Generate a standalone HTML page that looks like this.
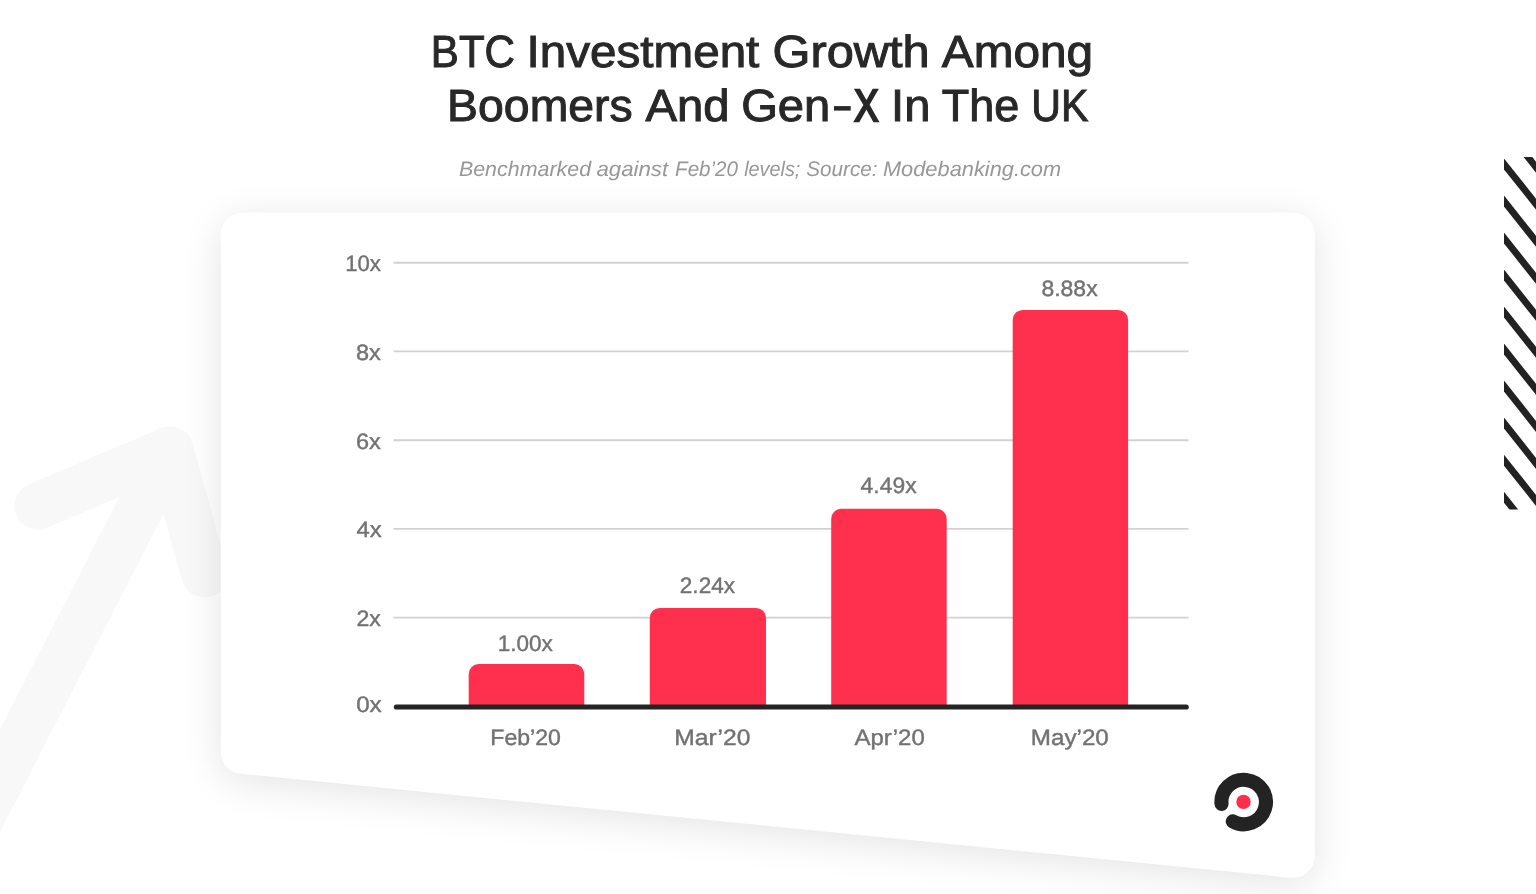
<!DOCTYPE html>
<html><head><meta charset="utf-8">
<style>
html,body{margin:0;padding:0;background:#fff;width:1536px;height:894px;overflow:hidden}
svg{display:block;will-change:transform}
text{font-family:"Liberation Sans",sans-serif;text-rendering:geometricPrecision}
</style></head><body>
<svg width="1536" height="894" viewBox="0 0 1536 894">
<defs>
<filter id="sh" x="-20%" y="-20%" width="140%" height="140%"><feGaussianBlur stdDeviation="20"/></filter>
<clipPath id="stc"><rect x="1504" y="157" width="40" height="352.5"/></clipPath>
</defs>
<rect width="1536" height="894" fill="#fff"/>
<g fill="none" stroke="#f8f8f8" stroke-width="47" stroke-linecap="round" stroke-linejoin="round">
<path d="M38 506 L170 450 L204.6 574"/>
<path d="M170 450 L-84 944"/>
</g>
<path d="M220.80 234.50 A22.00 22.00 0 0 1 242.80 212.50 L1293.00 212.50 A22.00 22.00 0 0 1 1315.00 234.50 L1315.00 855.82 A22.00 22.00 0 0 1 1290.83 877.71 L240.63 773.76 A22.00 22.00 0 0 1 220.80 751.87 Z" fill="#000" opacity="0.105" filter="url(#sh)" transform="translate(0,7)"/>
<path d="M220.80 234.50 A22.00 22.00 0 0 1 242.80 212.50 L1293.00 212.50 A22.00 22.00 0 0 1 1315.00 234.50 L1315.00 855.82 A22.00 22.00 0 0 1 1290.83 877.71 L240.63 773.76 A22.00 22.00 0 0 1 220.80 751.87 Z" fill="#fff"/>
<g clip-path="url(#stc)" stroke="#222" stroke-width="6.84">
<line x1="1495.00" y1="78.50" x2="1545.00" y2="141.50"/>
<line x1="1495.00" y1="115.53" x2="1545.00" y2="178.53"/>
<line x1="1495.00" y1="152.56" x2="1545.00" y2="215.56"/>
<line x1="1495.00" y1="189.59" x2="1545.00" y2="252.59"/>
<line x1="1495.00" y1="226.62" x2="1545.00" y2="289.62"/>
<line x1="1495.00" y1="263.65" x2="1545.00" y2="326.65"/>
<line x1="1495.00" y1="300.68" x2="1545.00" y2="363.68"/>
<line x1="1495.00" y1="337.71" x2="1545.00" y2="400.71"/>
<line x1="1495.00" y1="374.74" x2="1545.00" y2="437.74"/>
<line x1="1495.00" y1="411.77" x2="1545.00" y2="474.77"/>
<line x1="1495.00" y1="448.80" x2="1545.00" y2="511.80"/>
<line x1="1495.00" y1="485.83" x2="1545.00" y2="548.83"/>
<line x1="1495.00" y1="522.86" x2="1545.00" y2="585.86"/>
<line x1="1495.00" y1="559.89" x2="1545.00" y2="622.89"/>
</g>
<g fill="#282828" stroke="#282828" stroke-width="1.0" font-size="45.0">
<text x="430.86" y="66.70" textLength="84.07" lengthAdjust="spacingAndGlyphs">BTC</text>
<text x="526.54" y="66.70" textLength="232.81" lengthAdjust="spacingAndGlyphs">Investment</text>
<text x="772.53" y="66.70" textLength="157.19" lengthAdjust="spacingAndGlyphs">Growth</text>
<text x="941.83" y="66.70" textLength="151.36" lengthAdjust="spacingAndGlyphs">Among</text>
<text x="447.14" y="121.20" textLength="185.59" lengthAdjust="spacingAndGlyphs">Boomers</text>
<text x="645.47" y="121.20" textLength="84.06" lengthAdjust="spacingAndGlyphs">And</text>
<text x="741.16" y="121.20" textLength="89.16" lengthAdjust="spacingAndGlyphs">Gen</text>
<text x="854.23" y="121.20" textLength="24.18" lengthAdjust="spacingAndGlyphs" stroke-width="2.4">X</text>
<text x="891.07" y="121.20" textLength="39.28" lengthAdjust="spacingAndGlyphs">In</text>
<text x="941.70" y="121.20" textLength="77.50" lengthAdjust="spacingAndGlyphs">The</text>
<text x="1031.33" y="121.20" textLength="57.09" lengthAdjust="spacingAndGlyphs">UK</text>
</g>
<rect x="834.0" y="106.1" width="16.7" height="4.5" fill="#282828"/>
<g fill="#979797" font-size="21.0" font-style="italic">
<text x="458.93" y="175.50" textLength="132.14" lengthAdjust="spacingAndGlyphs">Benchmarked</text>
<text x="596.42" y="175.50" textLength="71.77" lengthAdjust="spacingAndGlyphs">against</text>
<text x="675.08" y="175.50" textLength="62.91" lengthAdjust="spacingAndGlyphs">Feb’20</text>
<text x="744.15" y="175.50" textLength="56.18" lengthAdjust="spacingAndGlyphs">levels;</text>
<text x="806.21" y="175.50" textLength="71.28" lengthAdjust="spacingAndGlyphs">Source:</text>
<text x="882.95" y="175.50" textLength="178.24" lengthAdjust="spacingAndGlyphs">Modebanking.com</text>
</g>
<g stroke="#d2d2d2" stroke-width="1.9">
<line x1="393.5" y1="262.7" x2="1188.5" y2="262.7"/>
<line x1="393.5" y1="351.4" x2="1188.5" y2="351.4"/>
<line x1="393.5" y1="440.2" x2="1188.5" y2="440.2"/>
<line x1="393.5" y1="528.9" x2="1188.5" y2="528.9"/>
<line x1="393.5" y1="617.6" x2="1188.5" y2="617.6"/>
</g>
<g fill="#ff304e">
<path d="M468.70 707.00 L468.70 674.00 A10 10 0 0 1 478.70 664.00 L574.30 664.00 A10 10 0 0 1 584.30 674.00 L584.30 707.00 Z"/>
<path d="M649.80 707.00 L649.80 617.90 A10 10 0 0 1 659.80 607.90 L756.00 607.90 A10 10 0 0 1 766.00 617.90 L766.00 707.00 Z"/>
<path d="M831.20 707.00 L831.20 518.80 A10 10 0 0 1 841.20 508.80 L936.70 508.80 A10 10 0 0 1 946.70 518.80 L946.70 707.00 Z"/>
<path d="M1012.70 707.00 L1012.70 319.90 A10 10 0 0 1 1022.70 309.90 L1118.10 309.90 A10 10 0 0 1 1128.10 319.90 L1128.10 707.00 Z"/>
</g>
<line x1="396.4" y1="707.0" x2="1186.2" y2="707.0" stroke="#242424" stroke-width="5.2" stroke-linecap="round"/>
<g fill="#727272" stroke="#727272" stroke-width="0.4" font-size="22.2">
<text x="345.16" y="271.00" textLength="35.72" lengthAdjust="spacingAndGlyphs">10x</text>
<text x="355.99" y="359.70" textLength="24.84" lengthAdjust="spacingAndGlyphs">8x</text>
<text x="356.02" y="448.50" textLength="24.86" lengthAdjust="spacingAndGlyphs">6x</text>
<text x="356.48" y="537.20" textLength="25.18" lengthAdjust="spacingAndGlyphs">4x</text>
<text x="356.45" y="625.90" textLength="24.40" lengthAdjust="spacingAndGlyphs">2x</text>
<text x="356.15" y="712.40" textLength="25.58" lengthAdjust="spacingAndGlyphs">0x</text>
<text x="497.67" y="650.60" textLength="55.08" lengthAdjust="spacingAndGlyphs">1.00x</text>
<text x="679.81" y="593.00" textLength="55.24" lengthAdjust="spacingAndGlyphs">2.24x</text>
<text x="860.61" y="493.40" textLength="55.97" lengthAdjust="spacingAndGlyphs">4.49x</text>
<text x="1041.46" y="295.80" textLength="56.17" lengthAdjust="spacingAndGlyphs">8.88x</text>
<text x="490.29" y="744.80" textLength="70.65" lengthAdjust="spacingAndGlyphs">Feb’20</text>
<text x="674.18" y="744.80" textLength="76.33" lengthAdjust="spacingAndGlyphs">Mar’20</text>
<text x="854.47" y="744.80" textLength="70.38" lengthAdjust="spacingAndGlyphs">Apr’20</text>
<text x="1030.76" y="744.80" textLength="78.07" lengthAdjust="spacingAndGlyphs">May’20</text>
</g>
<path d="M1221.53 803.94 A22.25 22.25 0 1 1 1232.78 821.38" fill="none" stroke="#232323" stroke-width="14.1" stroke-linecap="round"/>
<circle cx="1243.5" cy="801.9" r="7.2" fill="#ff2d4b"/>
</svg>
</body></html>
